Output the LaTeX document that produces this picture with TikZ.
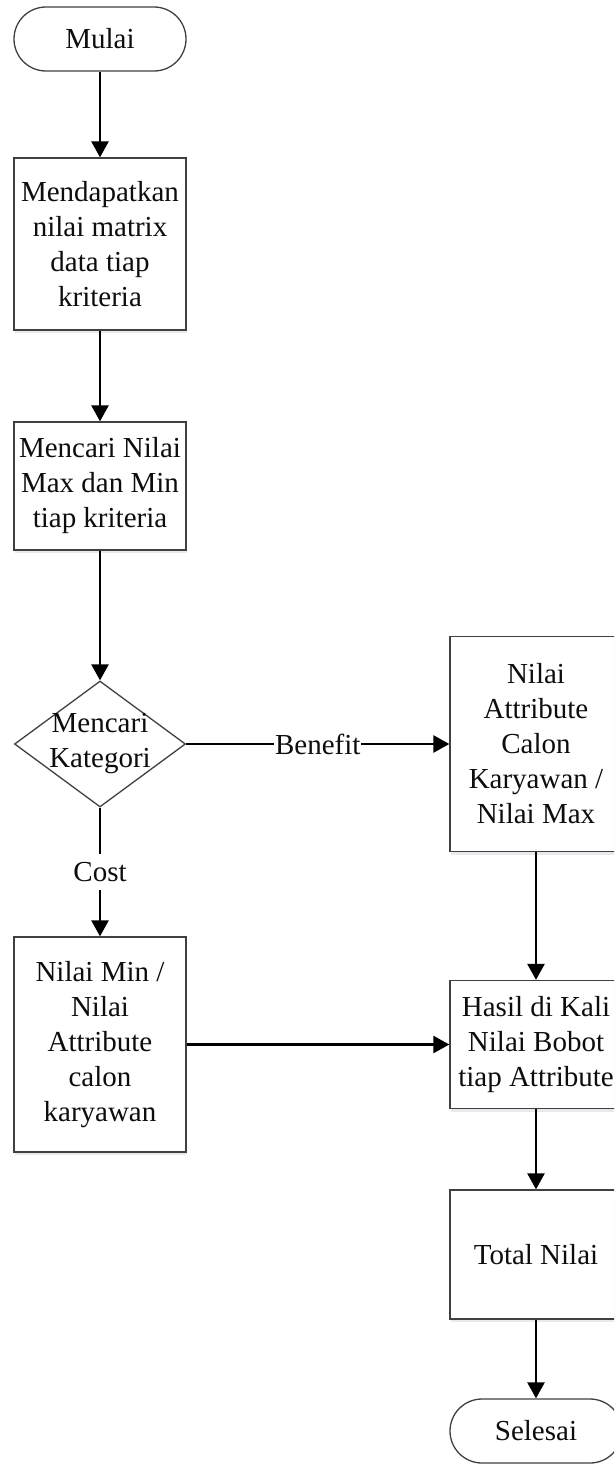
\documentclass[tikz,border=0pt]{standalone}
\usepackage{fontspec}
\setmainfont{Liberation Serif}
\usetikzlibrary{shapes.geometric,arrows.meta,shadows}
\begin{document}
\begin{tikzpicture}[x=1pt,y=-1pt,
  font=\fontsize{29}{35}\selectfont,
  boxshadow/.style={drop shadow={shadow xshift=1pt,shadow yshift=-3pt,fill=blue!25!gray!40,opacity=.35}},
  procbox/.style={draw=black!75,line width=1.3pt,fill=white,minimum width=172pt,
    inner sep=0pt,align=center,text=black!95,boxshadow},
  terminal/.style={draw=black!75,line width=1.3pt,fill=white,rounded corners=32pt,
    minimum width=172pt,minimum height=64pt,inner sep=0pt,text=black!95},
  decision/.style={diamond,draw=black!75,line width=1.3pt,fill=white,
    minimum width=171pt,minimum height=126pt,inner sep=0pt},
  flow/.style={line width=2.5pt,-{Triangle[width=17pt,length=16pt]}},
  edgelabel/.style={fill=white,inner xsep=1pt,inner ysep=8pt,text=black!95}
]
\clip (0,0) rectangle (614,1464);

% left column
\node[terminal] (mulai) at (100,39) {Mulai};
\node[procbox,minimum height=172pt] (matrix) at (100,244)
  {Mendapatkan\\nilai matrix\\data tiap\\kriteria};
\node[procbox,minimum height=128pt] (maxmin) at (100,486)
  {Mencari Nilai\\Max dan Min\\tiap kriteria};
\node[decision] (kategori) at (100,744) {};
\node[align=center,inner sep=0pt,text=black!95] (kategoritext) at (kategori)
  {Mencari\\Kategori};
\node[procbox,minimum height=215pt] (costbox) at (100,1044.5)
  {Nilai Min /\\Nilai\\Attribute\\calon\\karyawan};

% right column
\node[procbox,minimum height=215pt] (benefitbox) at (536,744)
  {Nilai\\Attribute\\Calon\\Karyawan /\\Nilai Max};
\node[procbox,minimum height=128pt] (kali) at (536,1044.5)
  {Hasil di Kali\\Nilai Bobot\\tiap Attribute};
\node[procbox,minimum height=129pt] (total) at (536,1254.5) {Total Nilai};
\node[terminal] (selesai) at (536,1431) {Selesai};

% connectors
\draw[flow] (mulai) -- (matrix);
\draw[flow] (matrix) -- (maxmin);
\draw[flow] (maxmin) -- (kategori);
\draw[flow] (kategori) -- node[edgelabel] (benefitlabel) {Benefit} (benefitbox);
\draw[flow] (kategori) -- node[edgelabel] (costlabel) {Cost} (costbox);
\draw[flow] (costbox) -- (kali);
\draw[flow] (benefitbox) -- (kali);
\draw[flow] (kali) -- (total);
\draw[flow] (total) -- (selesai);
\end{tikzpicture}
\end{document}
